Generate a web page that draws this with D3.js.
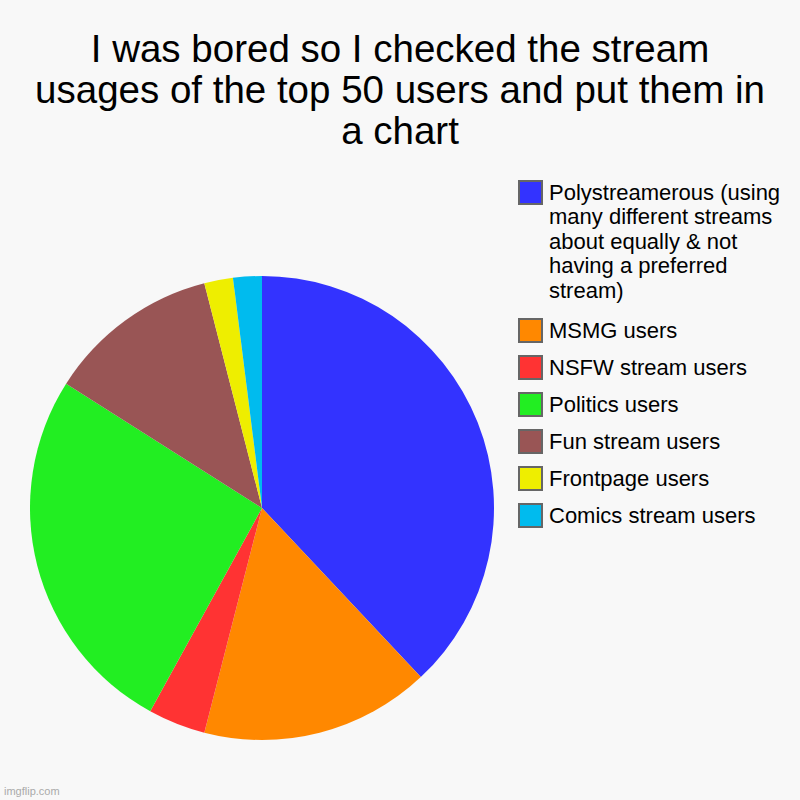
<!DOCTYPE html>
<html>
<head>
<meta charset="utf-8">
<script src="https://cdn.jsdelivr.net/npm/d3@7"></script>
<style>
  body { margin: 0; background: #f8f8f8; }
  svg { display: block; font-family: "Liberation Sans", Arial, sans-serif; }
</style>
</head>
<body>
<div id="chart"></div>
<script>
// data (50 users total)
const categories = [
  "Polystreamerous (using many different streams about equally & not having a preferred stream)",
  "MSMG users",
  "NSFW stream users",
  "Politics users",
  "Fun stream users",
  "Frontpage users",
  "Comics stream users"
]
const values = [19, 8, 2, 13, 6, 1, 1]
const colors = ["#3333ff", "#ff8800", "#ff3333", "#22ee22", "#995555", "#eeee00", "#00bbee"]
const legendLines = [
  ["Polystreamerous (using", "many different streams", "about equally & not", "having a preferred", "stream)"],
  ["MSMG users"], ["NSFW stream users"], ["Politics users"],
  ["Fun stream users"], ["Frontpage users"], ["Comics stream users"]
]
const titleLines = [
  "I was bored so I checked the stream",
  "usages of the top 50 users and put them in",
  "a chart"
]

const width = 800, height = 800
const svg = d3.select("#chart").append("svg")
  .attr("width", width).attr("height", height)

svg.append("rect").attr("width", width).attr("height", height).attr("fill", "#f8f8f8")

// title
svg.append("g").selectAll("text")
  .data(titleLines)
  .join("text")
  .attr("x", 400)
  .attr("y", (d, i) => 62 + i * 41)
  .attr("text-anchor", "middle")
  .style("font-size", "38.5px")
  .attr("fill", "#000")
  .text(d => d)

// pie
const cx = 262, cy = 508, r = 232
const pie = d3.pie().sort(null).value(d => d)
const arc = d3.arc().innerRadius(0).outerRadius(r)

svg.append("g")
  .attr("transform", "translate(" + cx + "," + cy + ")")
  .selectAll("path")
  .data(pie(values))
  .join("path")
  .attr("d", arc)
  .attr("fill", (d, i) => colors[i])

// legend
let yPos = 180
const legend = svg.append("g")
legendLines.forEach((lines, i) => {
  const g = legend.append("g").attr("transform", "translate(518," + yPos + ")")
  g.append("rect")
    .attr("x", 1).attr("y", 1)
    .attr("width", 23).attr("height", 23)
    .attr("fill", colors[i])
    .attr("stroke", "#666").attr("stroke-width", 2)
  g.selectAll("text")
    .data(lines)
    .join("text")
    .attr("x", 31)
    .attr("y", (d, j) => 19.5 + j * 24.6)
    .style("font-size", "22px")
    .attr("fill", "#000")
    .text(d => d)
  yPos += (lines.length - 1) * 25.25 + 37
})

// watermark
svg.append("text")
  .attr("x", 4).attr("y", 795)
  .style("font-size", "11px")
  .attr("fill", "#aaa")
  .text("imgflip.com")
</script>
</body>
</html>
